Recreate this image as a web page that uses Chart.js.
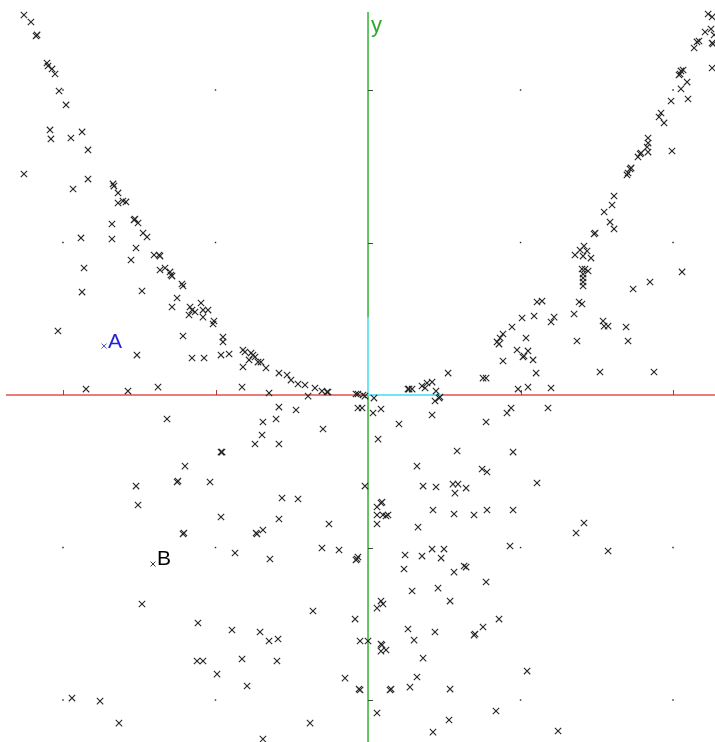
<!DOCTYPE html>
<html>
<head>
<meta charset="utf-8">
<script src="https://cdn.jsdelivr.net/npm/chart.js@4.4.1/dist/chart.umd.min.js"></script>
<style>
  html, body { margin: 0; padding: 0; background: #fff; }
  canvas { display: block; }
</style>
</head>
<body>
<canvas id="plot" width="715" height="742"></canvas>
<script>
// view window, in grid units (one tick = 1)
const xRange = [-2.413, 2.275];
const yRange = [-2.275, 2.590];
const tickValues = [-2, -1, 1, 2];
const xAxisFrom = -2.374;
const yAxisTop = 2.511;
const basisX = 0.485;
const basisY = 0.51;
const yLabel = { x: 0.02, y: 2.38, text: 'y' };
const markA = { x: -1.731, y: 0.321, text: 'A' };
const markB = { x: -1.410, y: -1.108, text: 'B' };

// crosses above the red axis (the two arms of the curve)
const crossesAbove = [
  [-2.256,2.492],[-2.210,2.446],[-2.177,2.354],[-2.170,2.361],[-2.105,2.177],[-2.098,2.157],[-2.072,2.138],[-2.052,2.105],
  [-2.026,1.993],[-1.980,1.902],[-2.085,1.738],[-2.079,1.679],[-1.948,1.685],[-1.875,1.725],[-1.836,1.607],[-2.256,1.449],
  [-1.836,1.416],[-1.934,1.351],[-1.672,1.384],[-1.666,1.370],[-1.639,1.325],[-1.639,1.259],[-1.607,1.272],[-1.587,1.266],
  [-1.679,1.121],[-1.534,1.148],[-1.528,1.154],[-1.508,1.128],[-1.475,1.062],[-1.449,1.036],[-1.882,1.030],[-1.679,1.023],
  [-1.521,0.964],[-1.554,0.885],[-1.403,0.918],[-1.364,0.911],[-1.370,0.918],[-1.862,0.833],[-1.364,0.820],[-1.331,0.833],
  [-1.298,0.807],[-1.292,0.787],[-1.285,0.780],[-1.875,0.675],[-1.482,0.682],[-1.252,0.636],[-1.285,0.577],[-2.033,0.420],
  [-1.515,0.262],[-1.849,0.039],[-1.574,0.026],[-1.377,0.052],
  [-1.220,0.728],[-1.213,0.715],[-1.167,0.577],[-1.154,0.557],[-1.134,0.544],[-1.095,0.603],[-1.082,0.557],[-1.082,0.511],
  [-1.049,0.557],[-1.174,0.525],[-1.010,0.485],[-1.016,0.466],[-1.213,0.387],[-0.951,0.380],[-0.951,0.348],[-1.154,0.243],
  [-1.075,0.243],[-0.964,0.262],[-0.911,0.269],[-0.820,0.295],[-0.807,0.282],[-0.767,0.275],[-0.754,0.262],[-0.741,0.249],
  [-0.780,0.230],[-0.721,0.216],[-0.702,0.216],[-0.820,0.184],[-0.669,0.177],[-0.584,0.144],[-0.531,0.131],[-0.505,0.098],
  [-0.459,0.072],[-0.413,0.066],[-0.348,0.046],[-0.302,0.026],[-0.269,0.020],[-0.262,0.020],[-0.393,-0.007],[-0.649,0.013],
  [-0.826,0.052],[-0.079,0.007],[-0.066,0.007],[-0.033,0],[-0.020,-0.007],
  [0.262,0.039],[0.269,0.039],[0.289,0.039],[0.354,0.059],[0.374,0.046],[0.387,0.079],[0.420,0.085],[0.446,0.026],
  [0.466,-0.020],[0.472,-0.013],[0.525,0.144],[0.754,0.111],[0.774,0.111],[0.984,0.039],[1.049,0.052],[0.885,0.223],
  [0.846,0.348],[0.859,0.334],[0.866,0.374],[0.885,0.400],[0.944,0.446],[1.010,0.505],[1.089,0.518],[1.108,0.610],
  [1.036,0.374],[0.977,0.295],[1.016,0.249],[1.023,0.256],[1.049,0.289],[1.082,0.230],[1.102,0.144],
  [2.230,2.498],[2.256,2.479],[2.210,2.380],[2.249,2.400],[2.269,2.361],[2.256,2.308],[2.262,2.302],[2.138,2.275],
  [2.157,2.315],[2.170,2.321],[2.256,2.144],[2.052,2.125],[2.066,2.131],[2.039,2.098],[2.046,2.105],[2.092,2.052],
  [2.052,2.007],[2.098,1.941],[1.987,1.928],[1.921,1.849],[1.908,1.823],[1.941,1.784],[1.836,1.685],[1.836,1.652],
  [1.830,1.626],[1.836,1.593],[1.784,1.580],[1.790,1.587],[1.770,1.561],[1.993,1.600],[1.718,1.482],[1.725,1.489],
  [1.705,1.456],[1.698,1.443],[1.613,1.305],[1.600,1.246],[1.548,1.200],[1.587,1.134],[1.613,1.089],[1.482,1.056],
  [1.489,1.062],[1.416,0.977],[1.390,0.951],[1.436,0.944],[1.357,0.918],[1.410,0.911],[1.462,0.898],[1.403,0.826],
  [1.423,0.826],[1.443,0.813],[1.410,0.793],[1.410,0.767],[1.410,0.741],[1.410,0.715],[1.384,0.610],[1.403,0.597],
  [1.141,0.616],[1.200,0.479],[1.220,0.511],[1.351,0.531],[1.541,0.485],[1.548,0.452],[1.574,0.452],[1.692,0.446],
  [1.705,0.354],[1.370,0.354],[1.738,0.695],[1.849,0.741],[2.059,0.807],[1.521,0.151],[1.875,0.151],[1.200,0.046]
];

// crosses below the red axis
const crossesBelow = [
  [-1.318,-0.157],[-1.521,-0.597],[-1.252,-0.570],[-1.246,-0.564],[-0.066,-0.085],[-0.584,-0.079],[-0.472,-0.098],
  [-0.689,-0.177],[-0.603,-0.157],[-0.695,-0.262],[-0.741,-0.321],[-0.584,-0.321],[-0.295,-0.223],[-0.964,-0.374],
  [-0.957,-0.374],[-1.200,-0.466],[-1.036,-0.570],
  [0.039,-0.020],[-0.039,-0.085],[0.033,-0.118],[0.085,-0.092],[0.203,-0.190],[0.066,-0.289],[0.439,-0.039],[0.420,-0.131],
  [0.774,-0.177],[0.584,-0.367],[0.951,-0.374],[0.911,-0.118],[0.938,-0.085],[0.321,-0.466],[0.748,-0.485],[0.780,-0.505],
  [-0.020,-0.597],[0.361,-0.597],[0.446,-0.603],[0.557,-0.584],[0.590,-0.584],[0.643,-0.610],[0.570,-0.643],[1.108,-0.577],
  [1.180,-0.085],
  [-1.508,-0.721],[-1.482,-1.370],[-1.941,-1.987],[-1.757,-2.007],[-1.633,-2.151],
  [-1.213,-0.911],[-1.207,-0.905],[-0.564,-0.675],[-0.459,-0.682],[-0.964,-0.800],[-0.584,-0.813],[-0.256,-0.846],
  [-0.734,-0.905],[-0.728,-0.911],[-0.689,-0.885],[-0.872,-1.036],[-0.643,-1.075],[-0.302,-1.003],[-0.190,-1.016],
  [-0.079,-1.082],[-0.072,-1.075],[-0.066,-1.062],[-0.361,-1.416],[-0.085,-1.469],[-1.115,-1.495],[-0.892,-1.541],
  [-0.708,-1.554],[-0.649,-1.613],[-0.590,-1.600],[-0.052,-1.613],[0,-1.613],[-1.121,-1.744],[-1.082,-1.744],
  [-0.826,-1.731],[-0.597,-1.744],[-0.990,-1.830],[-0.793,-1.908],[-0.151,-1.856],[-0.059,-1.928],[-0.052,-1.934],
  [-0.380,-2.151],[-0.689,-2.256],
  [0.085,-0.708],[0.092,-0.702],[0.059,-0.734],[0.059,-0.787],[0.098,-0.787],[0.118,-0.793],[0.131,-0.787],[0.059,-0.846],
  [0.426,-0.754],[0.564,-0.780],[0.695,-0.787],[0.780,-0.754],[0.951,-0.754],[0.328,-0.866],[0.243,-1.049],[0.354,-1.056],
  [0.420,-1.010],[0.498,-1.010],[0.479,-1.069],[0.236,-1.141],[0.564,-1.161],[0.630,-1.121],[0.643,-1.128],[0.774,-1.226],
  [0.931,-0.990],[0.289,-1.285],[0.459,-1.266],[0.538,-1.351],[0.085,-1.351],[0.098,-1.370],[0.059,-1.397],[0.262,-1.534],
  [0.302,-1.607],[0.439,-1.554],[0.695,-1.574],[0.702,-1.567],[0.754,-1.521],[0.859,-1.469],[0.092,-1.639],[0.085,-1.633],
  [0.085,-1.679],[0.118,-1.672],[0.361,-1.725],[0.321,-1.849],[0.275,-1.915],[0.144,-1.934],[0.151,-1.928],[0.538,-1.928],
  [1.043,-1.810],[0.059,-2.085],[0.531,-2.131],[0.839,-2.072],[0.426,-2.210],[1.416,-0.839],[1.364,-0.905],[1.574,-1.023],
  [1.246,-2.203]
];

const toPoints = arr => arr.map(p => ({ x: p[0], y: p[1] }));
const gridDots = [];
tickValues.forEach(gx => tickValues.forEach(gy => gridDots.push({ x: gx, y: gy })));

const axesPlugin = {
  id: 'axes',
  beforeDatasetsDraw(chart) {
    const { ctx, scales: { x, y } } = chart;
    const ox = x.getPixelForValue(0);
    const oy = y.getPixelForValue(0);
    ctx.save();
    // red horizontal axis
    ctx.strokeStyle = '#e0524a';
    ctx.lineWidth = 1.6;
    ctx.beginPath();
    ctx.moveTo(x.getPixelForValue(xAxisFrom), oy);
    ctx.lineTo(x.getPixelForValue(xRange[1]), oy);
    ctx.stroke();
    // green vertical axis
    ctx.strokeStyle = '#3cb83c';
    ctx.beginPath();
    ctx.moveTo(ox, y.getPixelForValue(yAxisTop));
    ctx.lineTo(ox, y.getPixelForValue(yRange[0]));
    ctx.stroke();
    // cyan basis segments
    ctx.strokeStyle = '#6fe6f2';
    ctx.lineWidth = 2;
    ctx.beginPath();
    ctx.moveTo(ox, oy);
    ctx.lineTo(x.getPixelForValue(basisX), oy);
    ctx.moveTo(ox, oy);
    ctx.lineTo(ox, y.getPixelForValue(basisY));
    ctx.stroke();
    // ticks
    ctx.lineWidth = 1;
    ctx.strokeStyle = '#a83a30';
    ctx.beginPath();
    tickValues.forEach(v => {
      const px = Math.round(x.getPixelForValue(v)) + 0.5;
      ctx.moveTo(px, oy);
      ctx.lineTo(px, oy - 5);
    });
    ctx.stroke();
    ctx.strokeStyle = '#2f5a2f';
    ctx.beginPath();
    tickValues.forEach(v => {
      const py = Math.round(y.getPixelForValue(v)) + 0.5;
      ctx.moveTo(ox, py);
      ctx.lineTo(ox + 5, py);
    });
    ctx.stroke();
    ctx.restore();
  },
  afterDatasetsDraw(chart) {
    const { ctx, scales: { x, y } } = chart;
    ctx.save();
    ctx.textAlign = 'left';
    ctx.textBaseline = 'alphabetic';
    ctx.font = '22px "Liberation Sans", Arial, sans-serif';
    ctx.fillStyle = '#2fa82f';
    ctx.fillText(yLabel.text, x.getPixelForValue(yLabel.x), y.getPixelForValue(yLabel.y));
    ctx.font = '21px "Liberation Sans", Arial, sans-serif';
    ctx.fillStyle = '#2323d8';
    ctx.fillText(markA.text, x.getPixelForValue(markA.x) + 4, y.getPixelForValue(markA.y) + 2);
    ctx.fillStyle = '#000';
    ctx.fillText(markB.text, x.getPixelForValue(markB.x) + 4, y.getPixelForValue(markB.y) + 1);
    ctx.restore();
  }
};

const crossStyle = {
  pointStyle: 'crossRot',
  pointRadius: 4.5,
  pointBorderWidth: 1.1,
  borderColor: '#262626',
  backgroundColor: '#262626'
};

new Chart(document.getElementById('plot').getContext('2d'), {
  type: 'scatter',
  data: {
    datasets: [
      { label: 'above', data: toPoints(crossesAbove), ...crossStyle },
      { label: 'below', data: toPoints(crossesBelow), ...crossStyle },
      { label: 'A', data: [markA], pointStyle: 'crossRot', pointRadius: 3.5, pointBorderWidth: 1,
        borderColor: '#4b4bd8', backgroundColor: '#4b4bd8' },
      { label: 'B', data: [markB], pointStyle: 'crossRot', pointRadius: 3.5, pointBorderWidth: 1,
        borderColor: '#333', backgroundColor: '#333' },
      { label: 'grid', data: gridDots, pointStyle: 'rect', pointRadius: 1, pointBorderWidth: 0,
        borderColor: '#222', backgroundColor: '#222' }
    ]
  },
  options: {
    responsive: false,
    animation: false,
    layout: { autoPadding: false, padding: 0 },
    scales: {
      x: { type: 'linear', min: xRange[0], max: xRange[1], display: false },
      y: { type: 'linear', min: yRange[0], max: yRange[1], display: false }
    },
    plugins: {
      legend: { display: false },
      tooltip: { enabled: false }
    }
  },
  plugins: [axesPlugin]
});
</script>
</body>
</html>
